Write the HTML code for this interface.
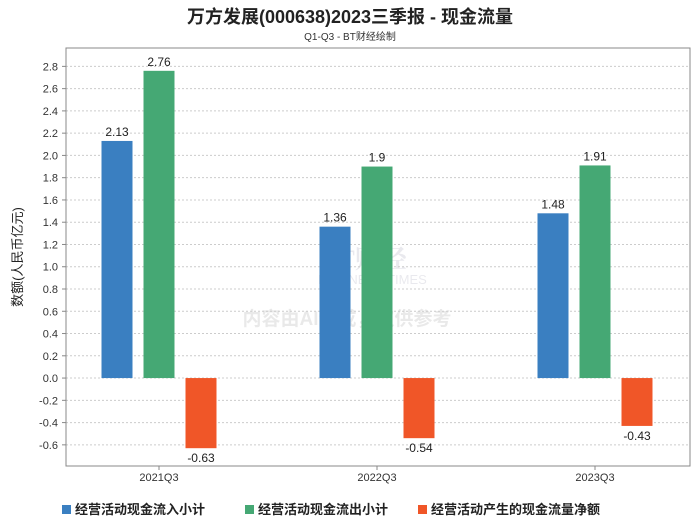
<!DOCTYPE html>
<html><head><meta charset="utf-8"><style>
body{margin:0;background:#fff;font-family:"Liberation Sans","Noto Sans CJK SC",sans-serif;}
</style></head><body>
<svg width="700" height="524" xmlns="http://www.w3.org/2000/svg" id="chart" font-family="Liberation Sans, Noto Sans CJK SC, sans-serif">
<text x="350" y="23" text-anchor="middle" font-size="18" font-weight="bold" fill="#222">万方发展(000638)2023三季报 - 现金流量</text>
<text x="350" y="40" text-anchor="middle" font-size="10" fill="#333">Q1-Q3 - BT财经绘制</text>
<g id="watermark" opacity="0.12">
<text x="320" y="268" font-size="26" font-weight="bold" fill="#557" font-family="Liberation Serif, Noto Serif CJK SC, serif">BT财经</text>
<text x="318" y="284" font-size="13" fill="#557">BUSINESS TIMES</text>
<text x="347" y="325" text-anchor="middle" font-size="19" font-weight="bold" fill="#555">内容由AI生成，仅供参考</text>
</g>
<g id="grid"></g>
<g id="bars"></g>
<rect x="66" y="48" width="624" height="418" fill="none" stroke="#888"/>
<text transform="translate(22,257) rotate(-90)" text-anchor="middle" font-size="13" fill="#222">数额(人民币亿元)</text>
<g id="legend"></g>
</svg>
<script>
const categories=["2021Q3","2022Q3","2023Q3"];
const inflow=[2.13,1.36,1.48];
const outflow=[2.76,1.9,1.91];
const net=[-0.63,-0.54,-0.43];
const yTicks=[-0.6,-0.4,-0.2,0,0.2,0.4,0.6,0.8,1.0,1.2,1.4,1.6,1.8,2.0,2.2,2.4,2.6,2.8];
const seriesNames=["经营活动现金流入小计","经营活动现金流出小计","经营活动产生的现金流量净额"];
const colors=["#3a7fc1","#45a874","#f05628"];
const NS="http://www.w3.org/2000/svg";
const L=66,R=690,T=48,B=466,yMin=-0.79,yMax=2.965;
function y(v){return B-(v-yMin)/(yMax-yMin)*(B-T);}
function xc(i){return 159+218*i;}
function mk(tag,a,p){const e=document.createElementNS(NS,tag);for(const k in a)e.setAttribute(k,a[k]);p.appendChild(e);return e;}
const grid=document.getElementById('grid'),bars=document.getElementById('bars'),lg=document.getElementById('legend');
yTicks.forEach(t=>{
 const ln=mk('line',{x1:L,x2:R,y1:y(t),y2:y(t),stroke:'#ccc','stroke-dasharray':'2,2'},grid);
 
 
 mk('line',{x1:L-4,x2:L,y1:y(t),y2:y(t),stroke:'#888'},grid);
 const tx=mk('text',{x:L-8,y:y(t)+4,'text-anchor':'end','font-size':11,fill:'#333'},grid);
 tx.textContent=t.toFixed(1);
 
 
});
const series=[inflow,outflow,net];
categories.forEach((c,i)=>{
 const cx=xc(i);
 mk('line',{x1:cx,x2:cx,y1:B,y2:B+4,stroke:'#888'},grid);
 const tx=mk('text',{x:cx,y:B+15,'text-anchor':'middle','font-size':11,fill:'#333'},grid);
 tx.textContent=c;
 
 
 series.forEach((s,j)=>{
  const v=s[i],bx=cx+(j-1)*42-15.5,y0=y(0),yv=y(v);
  const r=mk('rect',{x:bx,y:Math.min(y0,yv),width:31,height:Math.abs(yv-y0),fill:colors[j]},bars);
  
  
  const lb=mk('text',{x:bx+15.5,y:v>=0?yv-5:yv+14,'text-anchor':'middle','font-size':12,fill:'#222'},bars);
  lb.textContent=String(v);
  
  
 });
});
const lx=[62,245,418];
seriesNames.forEach((n,j)=>{
 const g=mk('g',{},lg);
 
 
 mk('rect',{x:lx[j],y:505,width:9,height:9,fill:colors[j]},g);
 const t=mk('text',{x:lx[j]+13,y:514,'font-size':13,'font-weight':'bold',fill:'#222'},g);
 t.textContent=n;
});
</script>
</body></html>
